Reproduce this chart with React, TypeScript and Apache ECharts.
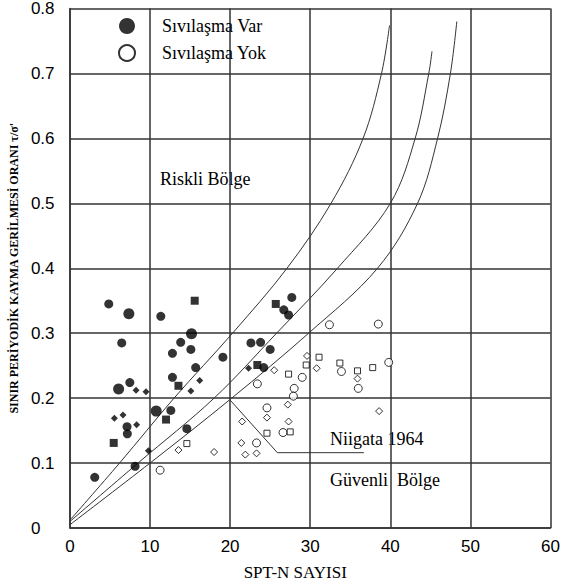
import React, { useEffect, useRef } from 'react';
import * as echarts from 'echarts';

const xTickLabels = ['0', '10', '20', '30', '40', '50', '60'];
const yTickLabels = ['0', '0.1', '0.2', '0.3', '0.4', '0.5', '0.6', '0.7', '0.8'];

// Boundary curves [SPT-N, ratio]
const curveUpper = [[0, 0.012], [6.2, 0.1], [13, 0.2], [20.3, 0.3], [27.1, 0.4], [32.6, 0.5], [36.6, 0.6], [38.9, 0.7], [39.9, 0.774]];
const curveMiddle = [[0, 0.01], [8.5, 0.1], [18, 0.2], [25.8, 0.3], [33.4, 0.4], [40, 0.5], [43.1, 0.6], [44.8, 0.7], [45.2, 0.734]];
const curveLower = [[0, 0.005], [10, 0.1], [20.2, 0.2], [29.8, 0.3], [38.4, 0.4], [43.4, 0.5], [45.9, 0.6], [47.5, 0.7], [48.3, 0.78]];
const niigataLine = [[20, 0.197], [25.9, 0.116], [36.7, 0.116]];

// Liquefaction observed (filled)
const filledLarge = [[7.36, 0.330], [15.18, 0.299], [6.08, 0.214], [10.77, 0.180]];
const filledCircle = [[4.85, 0.345], [11.35, 0.326], [6.47, 0.285], [13.83, 0.286], [15.1, 0.275], [12.8, 0.269], [15.7, 0.247], [12.8, 0.232], [7.48, 0.224], [7.13, 0.156], [7.17, 0.145], [12.6, 0.181], [14.6, 0.153], [8.14, 0.095], [3.1, 0.078], [22.6, 0.285], [23.8, 0.286], [25.0, 0.275], [19.1, 0.263], [26.7, 0.336], [27.3, 0.328], [24.2, 0.247], [27.7, 0.355]];
const filledSquare = [[15.58, 0.350], [13.55, 0.219], [5.47, 0.131], [12.0, 0.167], [25.7, 0.345], [23.4, 0.251]];
const filledDiamond = [[16.2, 0.227], [15.1, 0.211], [8.26, 0.212], [9.5, 0.210], [5.55, 0.169], [6.63, 0.174], [8.33, 0.159], [9.8, 0.119], [22.3, 0.246]];

// No liquefaction (open)
const openCircle = [[32.4, 0.313], [38.5, 0.314], [11.26, 0.089], [23.4, 0.222], [33.9, 0.241], [28.0, 0.215], [36.0, 0.215], [24.6, 0.185], [26.6, 0.147], [23.3, 0.131], [39.8, 0.255], [29.0, 0.232], [27.9, 0.203]];
const openSquare = [[14.6, 0.130], [27.3, 0.237], [29.5, 0.251], [31.1, 0.263], [33.7, 0.254], [35.9, 0.242], [37.8, 0.247], [24.6, 0.146], [27.5, 0.148]];
const openDiamond = [[13.55, 0.120], [18.0, 0.117], [25.5, 0.243], [29.6, 0.265], [30.8, 0.246], [35.9, 0.230], [38.6, 0.180], [27.2, 0.190], [24.6, 0.170], [21.5, 0.164], [27.3, 0.164], [21.4, 0.131], [21.9, 0.113], [23.3, 0.115]];

const SERIF = 'Liberation Serif';
const NARROW = 'Liberation Sans Narrow, Liberation Sans, sans-serif';

export default function App() {
  const ref = useRef<HTMLDivElement>(null);
  useEffect(() => {
    document.body.style.margin = '0';
    const chart = echarts.init(ref.current!, null, { renderer: 'svg' });
    const lineStyle = { color: '#333', width: 1 };
    const curve = (name: string, data: number[][]) => ({
      name, type: 'line', data, smooth: 0.35, symbol: 'none', lineStyle, silent: true, z: 3,
    });
    const filled = (name: string, data: number[][], symbol: string, size: number) => ({
      name, type: 'scatter', data, symbol, symbolSize: size, itemStyle: { color: '#000' }, z: 5,
    });
    const open = (name: string, data: number[][], symbol: string, size: number) => ({
      name, type: 'scatter', data, symbol, symbolSize: size,
      itemStyle: { color: '#fff', borderColor: '#000', borderWidth: 1 }, z: 5,
    });
    chart.setOption({
      animation: false,
      backgroundColor: '#fff',
      textStyle: { fontFamily: SERIF },
      grid: { left: 65, top: 5, width: 493, height: 523, containLabel: false },
      legend: {
        data: ['Sıvılaşma Var', 'Sıvılaşma Yok'],
        orient: 'vertical',
        left: 113,
        top: 12,
        itemWidth: 16,
        itemHeight: 16,
        itemGap: 9,
        textStyle: { fontFamily: SERIF, fontSize: 18, color: '#000', padding: [0, 0, 0, 22] },
      },
      xAxis: {
        type: 'value', min: 0, max: 60, interval: 10,
        name: 'SPT-N SAYISI', nameLocation: 'middle', nameGap: 36,
        nameTextStyle: { fontFamily: SERIF, fontSize: 17, color: '#000', padding: [0, 30, 0, 0] },
        axisLine: { lineStyle: { color: '#333', width: 1.5 } },
        axisTick: { show: false },
        axisLabel: {
          margin: 10, fontFamily: NARROW, fontSize: 17, color: '#000',
          formatter: (_v: number, i: number) => xTickLabels[i],
        },
        splitLine: { show: true, lineStyle: { color: '#333', width: 1.5 } },
      },
      yAxis: {
        type: 'value', min: 0, max: 0.8, interval: 0.1,
        name: "SINIR PERİYODİK KAYMA GERİLMESİ ORANI τ/σ'", nameLocation: 'middle', nameGap: 47, nameRotate: 90,
        nameTextStyle: { fontFamily: SERIF, fontSize: 12, fontWeight: 'bold', color: '#000' },
        axisLine: { lineStyle: { color: '#333', width: 1.5 } },
        axisTick: { show: false },
        axisLabel: {
          margin: 39, align: 'left', fontFamily: NARROW, fontSize: 17, color: '#000', padding: [8, 0, 0, 0],
          formatter: (_v: number, i: number) => yTickLabels[i],
        },
        splitLine: { show: true, lineStyle: { color: '#333', width: 1.5 } },
      },
      graphic: [
        { type: 'text', left: 160, top: 170, style: { text: 'Riskli Bölge', fontFamily: SERIF, fontSize: 18, fill: '#000' } },
        { type: 'text', left: 330, top: 430, style: { text: 'Niigata 1964', fontFamily: SERIF, fontSize: 18, fill: '#000' } },
        { type: 'text', left: 330, top: 471, style: { text: 'Güvenli  Bölge', fontFamily: SERIF, fontSize: 18, fill: '#000' } },
      ],
      series: [
        curve('Sınır 1', curveUpper),
        curve('Sınır 2', curveMiddle),
        curve('Sınır 3', curveLower),
        { name: 'Niigata 1964', type: 'line', data: niigataLine, symbol: 'none', lineStyle, silent: true, z: 3 },
        filled('Sıvılaşma Var', filledCircle, 'circle', 9),
        filled('Sıvılaşma Var (büyük)', filledLarge, 'circle', 11),
        filled('Sıvılaşma Var (kare)', filledSquare, 'rect', 8),
        filled('Sıvılaşma Var (baklava)', filledDiamond, 'diamond', 7),
        open('Sıvılaşma Yok', openCircle, 'circle', 8),
        open('Sıvılaşma Yok (kare)', openSquare, 'rect', 6),
        open('Sıvılaşma Yok (baklava)', openDiamond, 'diamond', 7),
      ],
    });
    return () => chart.dispose();
  }, []);
  return <div ref={ref} style={{ width: 563, height: 586 }} />;
}
